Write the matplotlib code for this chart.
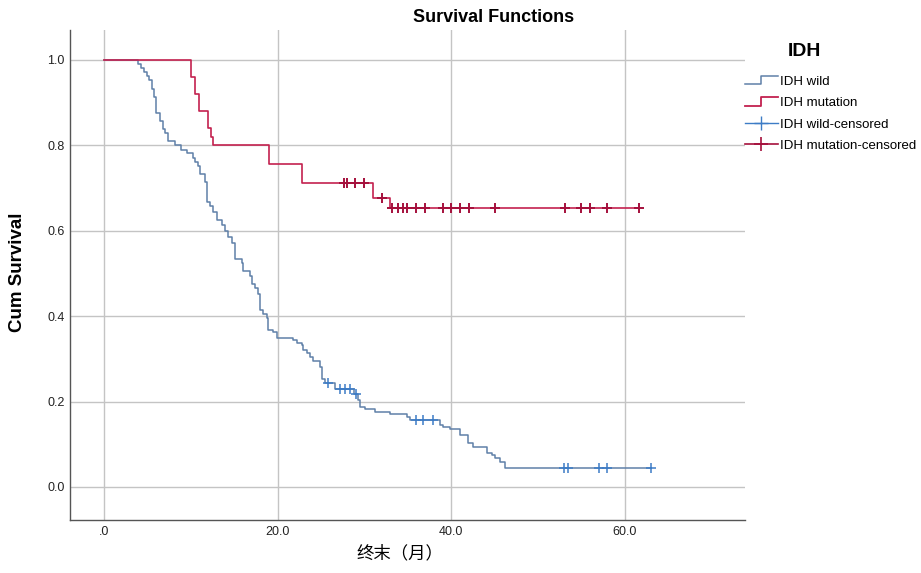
import numpy as np
import matplotlib
matplotlib.use("Agg")
import matplotlib.pyplot as plt
from matplotlib.lines import Line2D
from matplotlib.legend_handler import HandlerBase

# ---------------- data ----------------
wild_event_times = [3.9, 4.3, 4.6, 4.9, 5.2, 5.5, 5.8, 6.0, 6.4, 6.8, 7.0, 7.4, 8.2, 8.9,
                    9.6, 10.2, 10.5, 10.8, 11.1, 11.6, 11.9, 12.2, 12.6, 13.0, 13.6, 13.9,
                    14.3, 14.7, 15.1, 15.9, 16.0, 16.8, 17.1, 17.4, 17.7, 18.0, 18.3, 18.8,
                    18.9, 19.5, 19.9, 21.8, 22.2, 22.8, 22.9, 23.4, 23.7, 24.1, 24.9, 25.1,
                    25.5, 26.6, 28.8, 29.3, 29.5, 30.1, 31.2, 33.0, 34.9, 35.3, 38.7, 39.1,
                    39.9, 41.0, 41.9, 42.5, 44.1, 44.7, 45.0, 45.6, 46.2]
wild_surv = [0.990, 0.981, 0.971, 0.962, 0.952, 0.933, 0.914, 0.876, 0.857, 0.838, 0.829,
             0.810, 0.800, 0.790, 0.781, 0.771, 0.762, 0.752, 0.733, 0.714, 0.667, 0.657,
             0.643, 0.624, 0.614, 0.600, 0.586, 0.571, 0.533, 0.524, 0.505, 0.495, 0.476,
             0.467, 0.452, 0.414, 0.405, 0.395, 0.367, 0.362, 0.348, 0.343, 0.338, 0.333,
             0.321, 0.314, 0.305, 0.295, 0.281, 0.252, 0.243, 0.229, 0.218, 0.204, 0.187,
             0.183, 0.176, 0.172, 0.164, 0.157, 0.145, 0.140, 0.136, 0.122, 0.103, 0.094,
             0.080, 0.075, 0.068, 0.059, 0.045]
wild_end = 63.0
wild_censored = [25.8, 27.2, 27.8, 28.3, 29.0, 36.0, 36.8, 37.9, 53.0, 53.4, 57.0, 58.0, 63.0]

mut_event_times = [10.0, 10.5, 10.9, 12.0, 12.3, 12.6, 19.0, 22.8, 31.0, 33.0]
mut_surv = [0.960, 0.920, 0.880, 0.840, 0.820, 0.800, 0.756, 0.711, 0.676, 0.653]
mut_end = 61.6
mut_censored = [27.6, 28.0, 28.9, 29.9, 32.0, 33.2, 33.9, 34.5, 34.9, 36.0, 37.0, 39.1,
                40.0, 41.0, 42.0, 45.0, 53.1, 55.0, 56.0, 57.9, 61.6]

x_ticks = [0, 20, 40, 60]
x_tick_labels = [".0", "20.0", "40.0", "60.0"]
y_ticks = [0.0, 0.2, 0.4, 0.6, 0.8, 1.0]
y_tick_labels = ["0.0", "0.2", "0.4", "0.6", "0.8", "1.0"]
legend_title = "IDH"
legend_labels = ["IDH wild", "IDH mutation", "IDH wild-censored", "IDH mutation-censored"]

# ---------------- styles ----------------
WILD_COLOR = "#5f80a8"
WILD_CENS = "#3d7cc6"
MUT_COLOR = "#c3214f"
MUT_CENS = "#a5103c"

plt.rcParams['font.family'] = ['Liberation Sans', 'DejaVu Sans']

fig = plt.figure(figsize=(9.21, 5.73), dpi=100)
ax = fig.add_axes([70 / 921, 1 - 520 / 573, (745 - 70) / 921, (520 - 30) / 573])


def step_arrays(times, surv, end):
    t = np.concatenate([[0.0], times, [end]])
    s = np.concatenate([[1.0], surv, [surv[-1]]])
    return t, s


def surv_at(times, surv, t):
    idx = np.searchsorted(np.asarray(times), np.asarray(t), side='right')
    s = np.concatenate([[1.0], surv])
    return s[idx]


wt, ws = step_arrays(wild_event_times, wild_surv, wild_end)
mt, ms = step_arrays(mut_event_times, mut_surv, mut_end)

ax.step(wt, ws, where='post', color=WILD_COLOR, lw=1.1, zorder=3)
ax.step(mt, ms, where='post', color=MUT_COLOR, lw=1.2, zorder=3)
ax.plot(wild_censored, surv_at(wild_event_times, wild_surv, wild_censored), ls='none',
        marker='+', ms=7, mew=1.1, color=WILD_CENS, zorder=4)
ax.plot(mut_censored, surv_at(mut_event_times, mut_surv, mut_censored), ls='none',
        marker='+', ms=7, mew=1.4, color=MUT_CENS, zorder=4)

ax.set_xlim(-3.92, 73.85)
ax.set_ylim(-0.0773, 1.070)
ax.set_xticks(x_ticks)
ax.set_xticklabels(x_tick_labels, fontsize=9, color="#222222")
ax.set_yticks(y_ticks)
ax.set_yticklabels(y_tick_labels, fontsize=9, color="#222222")
ax.tick_params(length=0, pad=4)
ax.grid(True, color="#c4c4c4", lw=1.0, zorder=0)
ax.set_axisbelow(True)
for side in ['top', 'right']:
    ax.spines[side].set_visible(False)
for side in ['left', 'bottom']:
    ax.spines[side].set_color("#555555")
    ax.spines[side].set_linewidth(1.0)

fig.text(18 / 921, 1 - 272 / 573, "Cum Survival", rotation=90, ha='center', va='center',
         fontsize=13.5, fontweight='bold')
fig.text(400 / 921, 1 - 553 / 573, "终末（月）", ha='center', va='center', fontsize=12.5,
         family=['Noto Sans CJK SC', 'DejaVu Sans'])
fig.text(494 / 921, 1 - 18 / 573, "Survival Functions", ha='center', va='center',
         fontsize=13, fontweight='bold')
fig.text(804 / 921, 1 - 51 / 573, legend_title, ha='center', va='center',
         fontsize=14, fontweight='bold')


class StepHandler(HandlerBase):
    def create_artists(self, legend, orig_handle, xdescent, ydescent, width, height,
                       fontsize, trans):
        x0 = -xdescent
        y0 = -ydescent
        xs = [x0, x0 + 0.5 * width, x0 + 0.5 * width, x0 + width]
        ys = [y0 + 0.1 * height, y0 + 0.1 * height, y0 + 1.0 * height, y0 + 1.0 * height]
        ln = Line2D(xs, ys, color=orig_handle.get_color(), lw=orig_handle.get_linewidth())
        ln.set_transform(trans)
        return [ln]


h_wild = Line2D([], [], color=WILD_COLOR, lw=1.1)
h_mut = Line2D([], [], color=MUT_COLOR, lw=1.3)
h_wc = Line2D([], [], color=WILD_CENS, lw=1.0, marker='+', ms=10, mew=1.0)
h_mc = Line2D([], [], color=MUT_CENS, lw=1.2, marker='+', ms=10, mew=1.2)

leg = fig.legend([h_wild, h_mut, h_wc, h_mc], legend_labels,
                 handler_map={h_wild: StepHandler(), h_mut: StepHandler()},
                 loc='upper left', bbox_to_anchor=(745 / 921, 1 - 76 / 573),
                 frameon=False, fontsize=9.5, handlelength=2.5,
                 handletextpad=0.15, labelspacing=0.68, borderaxespad=0, borderpad=0)

fig.savefig("out.png", dpi=100)
